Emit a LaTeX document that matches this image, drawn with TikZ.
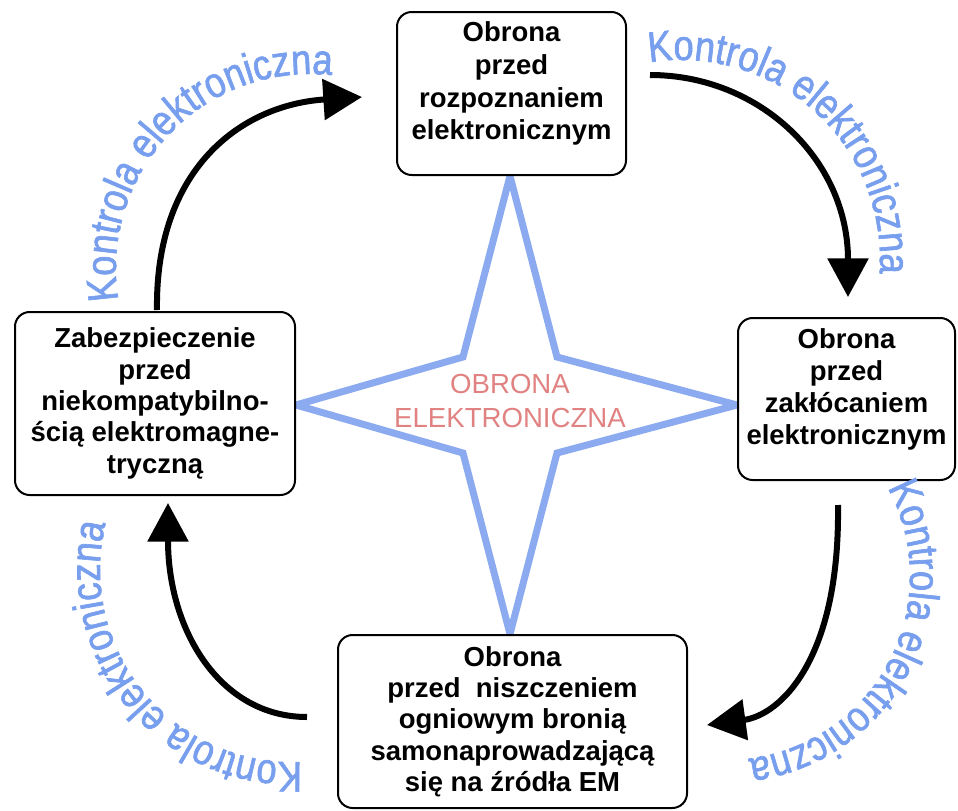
\documentclass[tikz,border=0pt]{standalone}
\usepackage{fontspec}
\setmainfont{Liberation Sans}
\newfontfamily\kfont[FakeStretch=0.85,FakeBold=1.5]{Liberation Sans}
\usetikzlibrary{arrows.meta,decorations.text,backgrounds}
\definecolor{kblue}{RGB}{120,158,238}
\definecolor{starblue}{RGB}{140,170,240}
\definecolor{ewred}{RGB}{225,130,130}

\begin{document}
\begin{tikzpicture}[x=0.75pt,y=-0.75pt]
  \tikzset{box/.style={draw,line width=1.5pt,rounded corners=11pt,fill=white,align=center,
      inner sep=0pt,font=\bfseries\fontsize{20.6}{23.5}\selectfont},
    flow/.style={line width=4.5pt,-{Triangle[length=29pt,width=30pt]}},
    ctrl/.style={decorate,decoration={text along path,text align=center,
      text={|\kfont\fontsize{32}{32}\selectfont\color{kblue}|Kontrola elektroniczna}}}}
  \useasboundingbox (0,0) rectangle (958,811);
  \coordinate (c) at (510,405);

  \node[box,minimum width=171.75pt,minimum height=122.25pt,text depth=19pt,
    font=\bfseries\fontsize{20.6}{24.5}\selectfont] (recon) at (511.5,93.5)
    {Obrona\\przed\\rozpoznaniem\\elektronicznym};
  \node[box,minimum width=162.75pt,minimum height=121.5pt,text depth=19pt,
    font=\bfseries\fontsize{20.6}{24}\selectfont] (jamming) at (846.5,399)
    {Obrona\\przed\\zakłócaniem\\elektronicznym};
  \node[box,minimum width=261.75pt,minimum height=129.75pt] (fire) at (512.5,721.5)
    {Obrona\\przed\ \ niszczeniem\\ogniowym bronią\\samonaprowadzającą\\się na źródła EM};
  \node[box,minimum width=210pt,minimum height=137.25pt] (emc) at (155,403.5)
    {Zabezpieczenie\\przed\\niekompatybilno-\\ścią elektromagne-\\tryczną};

  % four-pointed star behind the boxes
  \begin{scope}[on background layer]
    \draw[starblue,line width=5.25pt] (recon.south -| c) -- (557,357) -- (jamming.west |- c)
      -- (557,453) -- (fire.north -| c) -- (463,453) -- (emc.east |- c) -- (463,357) -- cycle;
  \end{scope}
  \node[text=ewred,align=center,font=\fontsize{20.7}{25}\selectfont] (ew) at (510,401)
    {OBRONA\\ELEKTRONICZNA};

  % arrows round the cycle
  \coordinate (tlS) at (157,310);
  \coordinate (tlE) at (362,97);
  \coordinate (trS) at (650,75);
  \coordinate (trE) at (848,297);
  \coordinate (brS) at (838,505);
  \coordinate (brE) at (707,725);
  \coordinate (blS) at (307,717);
  \coordinate (blE) at (168,503);
  \draw[flow] (tlS) .. controls (155,170) and (240,105) .. (tlE);
  \draw[flow] (trS) .. controls (760,75) and (848,160) .. (trE);
  \draw[flow] (brS) .. controls (840,660) and (780,715) .. (brE);
  \draw[flow] (blS) .. controls (220,717) and (168,630) .. (blE);

  % curved labels
  \path[ctrl,shift={(310,268)}] (163.5:194) arc[start angle=163.5,end angle=283.5,radius=194];
  \path[ctrl,shift={(681,259)}] (252.5:199) arc[start angle=252.5,end angle=372.5,radius=199];
  \path[ctrl,shift={(726,576)}] (-32.8:184) arc[start angle=-32.8,end angle=87.2,radius=184];
  \path[ctrl,shift={(292,570)}] (80.5:192) arc[start angle=80.5,end angle=200.5,radius=192];
\end{tikzpicture}
\end{document}
